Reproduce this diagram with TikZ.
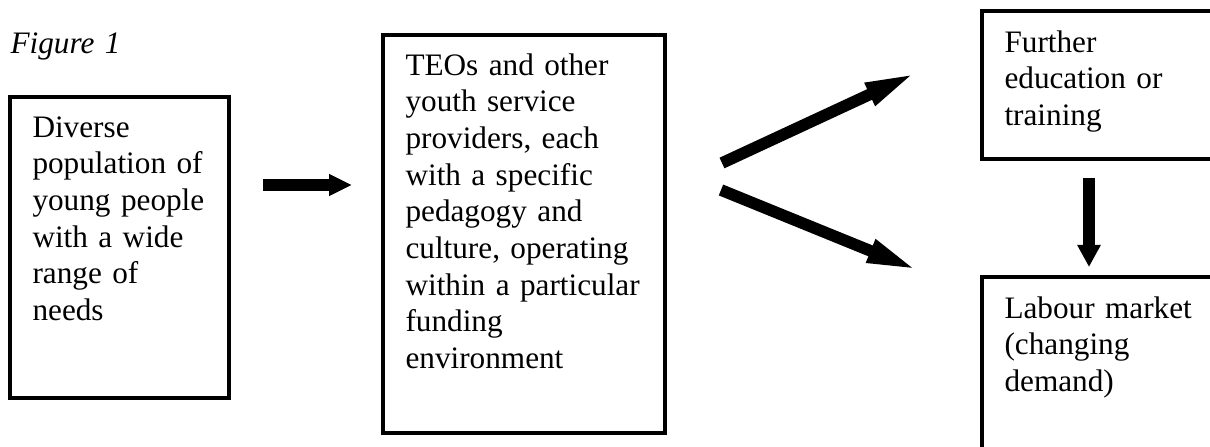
\documentclass[tikz,border=0pt]{standalone}
\usepackage{fontspec}
\setmainfont{Liberation Serif}
\usetikzlibrary{arrows.meta}
\tikzset{
  boxtxt/.style={anchor=base west, inner sep=0pt, align=left, text width=100pt,
    font=\fontsize{12.3}{14.45}\selectfont},
  boxline/.style={line width=1.4pt},
  fat/.style={line width=4.4pt, -{Triangle[length=9pt,width=8pt]}},
  longfat/.style={line width=4.6pt, -{Triangle[length=21pt,width=8.5pt]}}
}
\begin{document}
\begin{tikzpicture}[x=0.3937pt,y=-0.3937pt]
\clip (0,0) rectangle (1210,446);
\node[boxtxt] (fig) at (10,53) {\itshape Figure 1};
% boxes
\node[boxtxt] (young) at (32,137) {Diverse\\population of\\young people\\with a wide\\range of\\needs};
\draw[boxline] (10,97) rectangle (229,398);
\node[boxtxt] (teo) at (405,75) {TEOs and other\\youth service\\providers, each\\with a specific\\pedagogy and\\culture, operating\\within a particular\\funding\\environment};
\draw[boxline] (383,35) rectangle (665,433);
\node[boxtxt] (further) at (1004,52) {Further\\education or\\training};
\draw[boxline] (982,11) rectangle (1240,159);
\node[boxtxt] (labour) at (1004,318) {Labour market\\(changing\\demand)};
\draw[boxline] (982,277) rectangle (1240,470);
% arrows
\coordinate (a1s) at (263,185);
\coordinate (a1e) at (352,185);
\coordinate (ups) at (722,163);
\coordinate (upe) at (918,72);
\coordinate (dns) at (721,190);
\coordinate (dne) at (920,271);
\coordinate (vs) at (1089,178);
\coordinate (ve) at (1089,267);
\draw[fat] (a1s) -- (a1e);
\draw[longfat] (ups) -- (upe);
\draw[longfat] (dns) -- (dne);
\draw[fat, line width=4.7pt, -{Triangle[length=8.7pt,width=8.7pt]}] (vs) -- (ve);
\end{tikzpicture}
\end{document}
